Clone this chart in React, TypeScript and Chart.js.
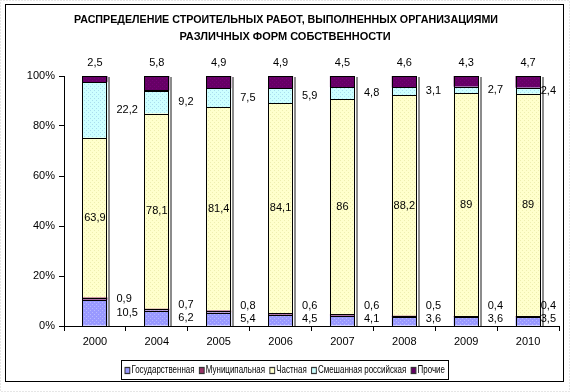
import React, { useEffect, useRef } from "react";
import { Chart, registerables } from "chart.js";

Chart.register(...registerables);

const categories = ["2000", "2004", "2005", "2006", "2007", "2008", "2009", "2010"];
const gosudarstvennaya = [10.5, 6.2, 5.4, 4.5, 4.1, 3.6, 3.6, 3.5];
const municipalnaya = [0.9, 0.7, 0.8, 0.6, 0.6, 0.5, 0.4, 0.4];
const chastnaya = [63.9, 78.1, 81.4, 84.1, 86, 88.2, 89, 89];
const smeshannaya = [22.2, 9.2, 7.5, 5.9, 4.8, 3.1, 2.7, 2.4];
const prochie = [2.5, 5.8, 4.9, 4.9, 4.5, 4.6, 4.3, 4.7];
const seriesNames = ["Государственная", "Муниципальная", "Частная", "Смешанная российская", "Прочие"];
const seriesColors = ["#9999FF", "#993366", "#FFFFCC", "#CCFFFF", "#660066"];
const dotColors = ["#B8B8FF", "#AA4477", "#EEEEB0", "#AADDEE", "#770077"];
const titleLines = [
  "РАСПРЕДЕЛЕНИЕ СТРОИТЕЛЬНЫХ РАБОТ, ВЫПОЛНЕННЫХ ОРГАНИЗАЦИЯМИ",
  "РАЗЛИЧНЫХ ФОРМ СОБСТВЕННОСТИ",
];

const FONT = "'Liberation Sans', Arial, sans-serif";
const fmt = (v: number) => String(v).replace(".", ",");

function makePattern(base: string, dot: string): CanvasPattern | string {
  const c = document.createElement("canvas");
  c.width = 4;
  c.height = 4;
  const g = c.getContext("2d");
  if (!g) return base;
  g.fillStyle = base;
  g.fillRect(0, 0, 4, 4);
  g.fillStyle = dot;
  g.fillRect(0, 0, 1, 1);
  g.fillRect(2, 2, 1, 1);
  const p = g.createPattern(c, "repeat");
  return p || base;
}

const decorPlugin = {
  id: "decor",
  beforeDraw(chart: any) {
    const ctx = chart.ctx;
    ctx.save();
    ctx.fillStyle = "#ffffff";
    ctx.fillRect(0, 0, chart.width, chart.height);
    ctx.strokeStyle = "#cccccc";
    ctx.setLineDash([1, 2]);
    ctx.lineWidth = 1;
    ctx.strokeRect(0.5, 0.5, chart.width - 1, chart.height - 1);
    ctx.setLineDash([]);
    ctx.strokeStyle = "#000000";
    ctx.strokeRect(5.5, 4.5, 558, 377);
    // title
    ctx.fillStyle = "#000";
    ctx.font = `bold 11px ${FONT}`;
    ctx.textAlign = "center";
    ctx.textBaseline = "middle";
    ctx.fillText(titleLines[0], 286, 20, 424);
    ctx.fillText(titleLines[1], 285, 37, 424);
    ctx.restore();
  },
  beforeDatasetsDraw(chart: any) {
    const ctx = chart.ctx;
    const meta = chart.getDatasetMeta(0);
    const top = chart.getDatasetMeta(chart.data.datasets.length - 1);
    ctx.save();
    ctx.fillStyle = "#8c8c8c";
    meta.data.forEach((el: any, i: number) => {
      const right = Math.round(el.x + el.width / 2);
      const t = Math.round(top.data[i].y);
      const b = Math.round(el.base);
      ctx.fillRect(right + 1, t + 1, 2, b - t - 1);
    });
    ctx.restore();
  },
  afterDatasetsDraw(chart: any) {
    const ctx = chart.ctx;
    ctx.save();
    // borders
    ctx.strokeStyle = "#000";
    ctx.lineWidth = 1;
    chart.data.datasets.forEach((ds: any, di: number) => {
      const meta = chart.getDatasetMeta(di);
      meta.data.forEach((el: any) => {
        const l = Math.round(el.x - el.width / 2);
        const r = Math.round(el.x + el.width / 2);
        const t = Math.round(el.y);
        const b = Math.round(el.base);
        ctx.strokeRect(l + 0.5, t + 0.5, r - l - 1, b - t);
      });
    });
    // labels
    ctx.fillStyle = "#000";
    ctx.font = `11px ${FONT}`;
    ctx.textBaseline = "middle";
    const maxRight = 556;
    const n = chart.data.labels.length;
    for (let i = 0; i < n; i++) {
      const els = chart.data.datasets.map((_: any, di: number) => chart.getDatasetMeta(di).data[i]);
      const vals = chart.data.datasets.map((ds: any) => ds.data[i]);
      const barRight = els[0].x + els[0].width / 2;
      const sideX = (txt: string) => Math.min(barRight + 9, maxRight - ctx.measureText(txt).width);
      ctx.textAlign = "left";
      // dataset 0
      const t0 = fmt(vals[0]);
      const y0 = Math.min((els[0].y + els[0].base) / 2, 319);
      ctx.fillText(t0, sideX(t0), y0);
      // dataset 1
      const t1 = fmt(vals[1]);
      const y1 = Math.min((els[1].y + els[1].base) / 2, y0 - 13);
      ctx.fillText(t1, sideX(t1), y1);
      // dataset 3
      const t3 = fmt(vals[3]);
      const y3 = (els[3].y + els[3].base) / 2;
      ctx.fillText(t3, sideX(t3), y3);
      // dataset 2
      ctx.textAlign = "center";
      ctx.fillText(fmt(vals[2]), els[2].x, (els[2].y + els[2].base) / 2);
      // dataset 4
      ctx.fillText(fmt(vals[4]), els[4].x, els[4].y - 13);
    }
    ctx.restore();
  },
  afterDraw(chart: any) {
    const ctx = chart.ctx;
    ctx.save();
    const bx = 121, by = 360, bw = 327, bh = 19;
    ctx.strokeStyle = "#000";
    ctx.lineWidth = 1;
    ctx.strokeRect(bx + 0.5, by + 0.5, bw, bh);
    ctx.font = `10px ${FONT}`;
    const sq = 6, gapSq = 2, gapItem = 6;
    const widths = seriesNames.map((s) => ctx.measureText(s).width);
    const natural = widths.reduce((a, w) => a + sq + gapSq + w, 0) + gapItem * (seriesNames.length - 1);
    const target = 320;
    const s = Math.min(1, target / natural);
    const cy = by + bh / 2 + 1;
    ctx.translate(bx + 4, 0);
    ctx.scale(s, 1);
    let x = 0;
    ctx.textBaseline = "middle";
    ctx.textAlign = "left";
    seriesNames.forEach((name, i) => {
      ctx.fillStyle = seriesColors[i];
      ctx.fillRect(x, cy - 3, sq, sq);
      ctx.strokeStyle = "#333";
      ctx.lineWidth = 1 / s;
      ctx.strokeRect(x, cy - 3, sq, sq);
      ctx.fillStyle = "#000";
      ctx.fillText(name, x + sq + gapSq, cy);
      x += sq + gapSq + widths[i] + gapItem;
    });
    ctx.restore();
  },
};

export default function App() {
  const ref = useRef<HTMLCanvasElement>(null);
  useEffect(() => {
    document.body.style.margin = "0";
    const canvas = ref.current;
    if (!canvas) return;
    const series = [gosudarstvennaya, municipalnaya, chastnaya, smeshannaya, prochie];
    const chart = new Chart(canvas, {
      type: "bar",
      data: {
        labels: categories,
        datasets: series.map((d, i) => ({
          label: seriesNames[i],
          data: d,
          backgroundColor: makePattern(seriesColors[i], dotColors[i]) as any,
          borderWidth: 0,
          barPercentage: 0.405,
          categoryPercentage: 1,
        })),
      },
      options: {
        responsive: false,
        animation: false,
        devicePixelRatio: 1,
        layout: { padding: { top: 76, left: 0, right: 11, bottom: 36 } },
        plugins: { legend: { display: false }, title: { display: false }, tooltip: { enabled: false } },
        scales: {
          x: {
            stacked: true,
            afterFit: (s: any) => { s.height = 30; },
            grid: { display: true, drawOnChartArea: false, drawTicks: true, tickLength: 5, color: "#000", offset: true },
            border: { display: true, color: "#000", width: 1 },
            ticks: { color: "#000", font: { family: FONT, size: 11 }, padding: 4, maxRotation: 0 },
          },
          y: {
            stacked: true,
            min: 0,
            max: 100,
            afterFit: (s: any) => { s.width = 64; },
            grid: { display: true, drawOnChartArea: false, drawTicks: true, tickLength: 5, color: "#000" },
            border: { display: true, color: "#000", width: 1 },
            ticks: {
              stepSize: 20,
              color: "#000",
              font: { family: FONT, size: 11 },
              padding: 4,
              callback: (v: any) => `${v}%`,
            },
          },
        },
      },
      plugins: [decorPlugin],
    });
    return () => chart.destroy();
  }, []);
  return (
    <div style={{ width: 570, height: 392 }}>
      <canvas ref={ref} width={570} height={392} style={{ display: "block" }} />
    </div>
  );
}
